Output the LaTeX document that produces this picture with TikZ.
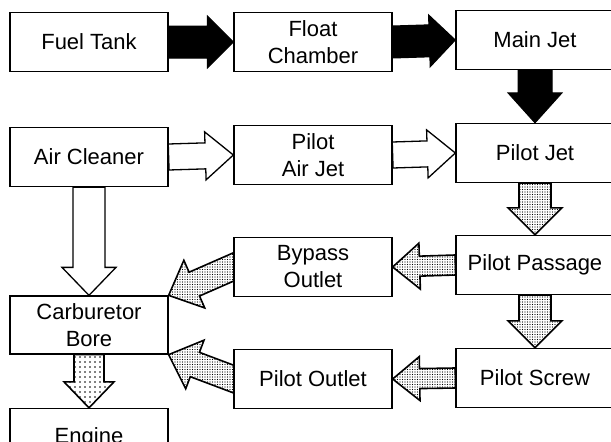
\documentclass[tikz,border=0pt]{standalone}
\usepackage{fontspec}
\setmainfont{Liberation Sans}
\usetikzlibrary{calc,patterns,backgrounds}
\pgfdeclarepatternformonly{sparsedots}{\pgfqpoint{-1pt}{-1pt}}{\pgfqpoint{1pt}{1pt}}{\pgfqpoint{5pt}{5pt}}{\pgfpathcircle{\pgfqpoint{0pt}{0pt}}{0.8pt}\pgfusepath{fill}}
\pgfdeclarepatternformonly{densedots}{\pgfqpoint{-1pt}{-1pt}}{\pgfqpoint{1pt}{1pt}}{\pgfqpoint{2.5pt}{2.5pt}}{\pgfpathcircle{\pgfqpoint{0pt}{0pt}}{0.7pt}\pgfusepath{fill}}
% #1 style, #2 start, #3 end (tip), #4 shaft half width, #5 head half width, #6 head length
\newcommand{\bigarrow}[6]{%
  \coordinate (ba-s) at (#2);
  \coordinate (ba-e) at (#3);
  \coordinate (ba-h) at ($(ba-e)!#6!(ba-s)$);
  \draw[#1] ($(ba-s)!#4!90:(ba-e)$) -- ($(ba-h)!#4!-90:(ba-s)$) -- ($(ba-h)!#5!-90:(ba-s)$)
    -- (ba-e) -- ($(ba-h)!#5!90:(ba-s)$) -- ($(ba-h)!#4!90:(ba-s)$) -- ($(ba-s)!#4!-90:(ba-e)$) -- cycle;
}
\tikzset{
  box/.style={draw, line width=1.3pt, fill=white, minimum width=158pt, minimum height=59pt,
    inner sep=0pt, align=center, font=\fontsize{22}{27}\selectfont},
  blackarr/.style={fill=black, draw=black, line width=1pt, line join=miter},
  whitearr/.style={fill=white, draw=black, line width=1.3pt, line join=miter},
  grayarr/.style={pattern=densedots, draw=black, line width=1.6pt, line join=miter},
  sparsearr/.style={pattern=sparsedots, draw=black, line width=1.6pt, line join=miter},
}
\begin{document}
\begin{tikzpicture}[x=1pt, y=-1pt]
\useasboundingbox (0,0) rectangle (611,442);
\clip (0,0) rectangle (611,442);
% boxes
\node[box] (fuel)   at (89,42)  {Fuel Tank};
\node[box] (float)  at (313,42) {Float\\Chamber};
\node[box] (main)   at (535,40) {Main Jet};
\node[box] (air)    at (89,157) {Air Cleaner};
\node[box] (paj)    at (313,155) {Pilot\\Air Jet};
\node[box] (pjet)   at (535,153) {Pilot Jet};
\node[box] (bypass) at (313,267) {Bypass\\Outlet};
\node[box] (ppass)  at (535,265) {Pilot Passage};
\node[box, minimum height=58pt] (carb) at (89,325) {Carburetor\\Bore};
\node[box] (pout)   at (313,379) {Pilot Outlet};
\node[box] (pscrew) at (535,378) {Pilot Screw};
\node[box] (engine) at (89,438) {Engine};
% arrows
\begin{scope}[on background layer]
\bigarrow{blackarr}{fuel.east}{float.west}{16pt}{26pt}{26pt}
\bigarrow{blackarr}{float.east}{main.west}{16pt}{26pt}{26pt}
\bigarrow{blackarr}{main.south}{pjet.north}{17pt}{27pt}{30pt}
\bigarrow{whitearr}{air.east}{paj.west}{13pt}{24pt}{28pt}
\bigarrow{whitearr}{paj.east}{pjet.west}{13pt}{24pt}{28pt}
\bigarrow{whitearr}{air.south}{carb.north}{16pt}{27pt}{28pt}
\bigarrow{grayarr}{pjet.south}{ppass.north}{16pt}{27pt}{27pt}
\bigarrow{grayarr}{ppass.south}{pscrew.north}{16pt}{27pt}{27pt}
\bigarrow{grayarr}{ppass.west}{bypass.east}{10pt}{23pt}{27pt}
\bigarrow{grayarr}{pscrew.west}{pout.east}{10pt}{22pt}{27pt}
\bigarrow{grayarr}{$(bypass.west)!-8pt!(carb.north east)$}{carb.north east}{13pt}{26pt}{28pt}
\bigarrow{grayarr}{$(pout.west)!-8pt!(carb.south east)$}{carb.south east}{13pt}{26pt}{28pt}
\bigarrow{sparsearr}{carb.south}{engine.north}{15pt}{25pt}{26pt}
\end{scope}
\end{tikzpicture}
\end{document}
